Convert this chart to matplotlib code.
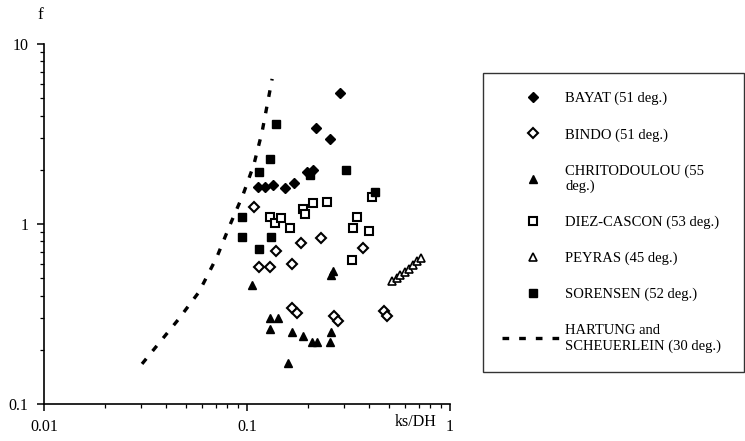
"""
Friction factor f against relative roughness ks/DH, several stepped-spillway data sets.
"""
import matplotlib
matplotlib.use("Agg")
import matplotlib.pyplot as plt
from matplotlib.ticker import FixedLocator, FixedFormatter, LogLocator, NullFormatter

plt.rcParams['font.family'] = ['Liberation Serif', 'DejaVu Serif']

# data
bayat_x = [0.113, 0.123, 0.134, 0.154, 0.171, 0.198, 0.211, 0.219, 0.256, 0.287]
bayat_f = [1.61, 1.61, 1.65, 1.58, 1.69, 1.94, 2.0, 3.41, 2.97, 5.34]

bindo_x = [0.108, 0.139, 0.115, 0.130, 0.167, 0.185, 0.232, 0.372,
           0.167, 0.176, 0.269, 0.281, 0.473, 0.490]
bindo_f = [1.24, 0.71, 0.58, 0.58, 0.60, 0.78, 0.84, 0.74,
           0.34, 0.32, 0.31, 0.29, 0.33, 0.31]

chrito_x = [0.106, 0.130, 0.142, 0.130, 0.167, 0.189, 0.210, 0.220,
            0.260, 0.257, 0.159, 0.258, 0.264]
chrito_f = [0.46, 0.30, 0.30, 0.26, 0.25, 0.24, 0.22, 0.22,
            0.25, 0.22, 0.17, 0.52, 0.55]

diez_x = [0.130, 0.137, 0.147, 0.163, 0.189, 0.193, 0.211, 0.248,
          0.329, 0.332, 0.348, 0.399, 0.413]
diez_f = [1.09, 1.01, 1.08, 0.95, 1.21, 1.14, 1.31, 1.33,
          0.63, 0.95, 1.09, 0.91, 1.41]

peyras_x = [0.52, 0.55, 0.57, 0.60, 0.63, 0.66, 0.69, 0.72]
peyras_f = [0.48, 0.50, 0.52, 0.54, 0.56, 0.59, 0.62, 0.65]

sorensen_x = [0.139, 0.130, 0.115, 0.094, 0.094, 0.131, 0.115, 0.204, 0.308, 0.428]
sorensen_f = [3.59, 2.30, 1.94, 1.09, 0.85, 0.85, 0.73, 1.87, 2.0, 1.51]

hartung_x = [0.0304, 0.0457, 0.058, 0.0711, 0.0824, 0.0955, 0.108, 0.1186, 0.133]
hartung_f = [0.167, 0.293, 0.419, 0.656, 0.987, 1.45, 2.13, 3.24, 6.4]

fig = plt.figure(figsize=(7.45, 4.41), dpi=100)
ax = fig.add_axes([44 / 745, 1 - 404 / 441, 406 / 745, 360 / 441])

ms = 5.8
ax.plot(bayat_x, bayat_f, linestyle='none', marker='D', ms=ms * 0.85,
        color='black', label='BAYAT (51 deg.)')
ax.plot(bindo_x, bindo_f, linestyle='none', marker='D', ms=ms * 0.85,
        mfc='white', mec='black', mew=1.5, label='BINDO (51 deg.)')
ax.plot(chrito_x, chrito_f, linestyle='none', marker='^', ms=ms + 0.5,
        color='black', label='CHRITODOULOU (55\ndeg.)')
ax.plot(diez_x, diez_f, linestyle='none', marker='s', ms=ms + 0.5,
        mfc='white', mec='black', mew=1.5, label='DIEZ-CASCON (53 deg.)')
ax.plot(peyras_x, peyras_f, linestyle='none', marker='^', ms=ms + 0.5,
        mfc='white', mec='black', mew=1.2, label='PEYRAS (45 deg.)')
ax.plot(sorensen_x, sorensen_f, linestyle='none', marker='s', ms=ms + 0.5,
        color='black', label='SORENSEN (52 deg.)')
ax.plot(hartung_x, hartung_f, color='black', lw=2.4, dashes=(2.0, 3.0),
        label='HARTUNG and\nSCHEUERLEIN (30 deg.)')

ax.set_xscale('log')
ax.set_yscale('log')
ax.set_xlim(0.01, 1)
ax.set_ylim(0.1, 10)

ax.xaxis.set_major_locator(FixedLocator([0.01, 0.1, 1]))
ax.xaxis.set_major_formatter(FixedFormatter(['0.01', '0.1', '1']))
ax.yaxis.set_major_locator(FixedLocator([0.1, 1, 10]))
ax.yaxis.set_major_formatter(FixedFormatter(['0.1', '1', '10']))
for axis in (ax.xaxis, ax.yaxis):
    axis.set_minor_locator(LogLocator(base=10, subs=range(2, 10)))
    axis.set_minor_formatter(NullFormatter())

ax.spines['top'].set_visible(False)
ax.spines['right'].set_visible(False)
for s in ('left', 'bottom'):
    ax.spines[s].set_linewidth(1.2)
ax.tick_params(which='major', direction='out', length=5, width=1.1,
               labelsize=11.5, pad=6)
ax.tick_params(which='minor', direction='out', length=3, width=0.9)

ax.text(0.915, -0.05, 'ks/DH', transform=ax.transAxes, ha='center',
        va='center', fontsize=11.5)
fig.text(40 / 745, 1 - 15 / 441, 'f', ha='center', va='center', fontsize=12.5)

leg = fig.legend(loc='upper left', bbox_to_anchor=(483 / 745, 1 - 73 / 441, 261 / 745, 0.0),
                 mode='expand', borderaxespad=0, fontsize=10.5, frameon=True,
                 fancybox=False, edgecolor='black', labelspacing=1.55,
                 handlelength=4.2, handletextpad=0.15, borderpad=1.3, numpoints=1)
leg.get_frame().set_linewidth(1.0)

fig.savefig('out.png', dpi=100)
